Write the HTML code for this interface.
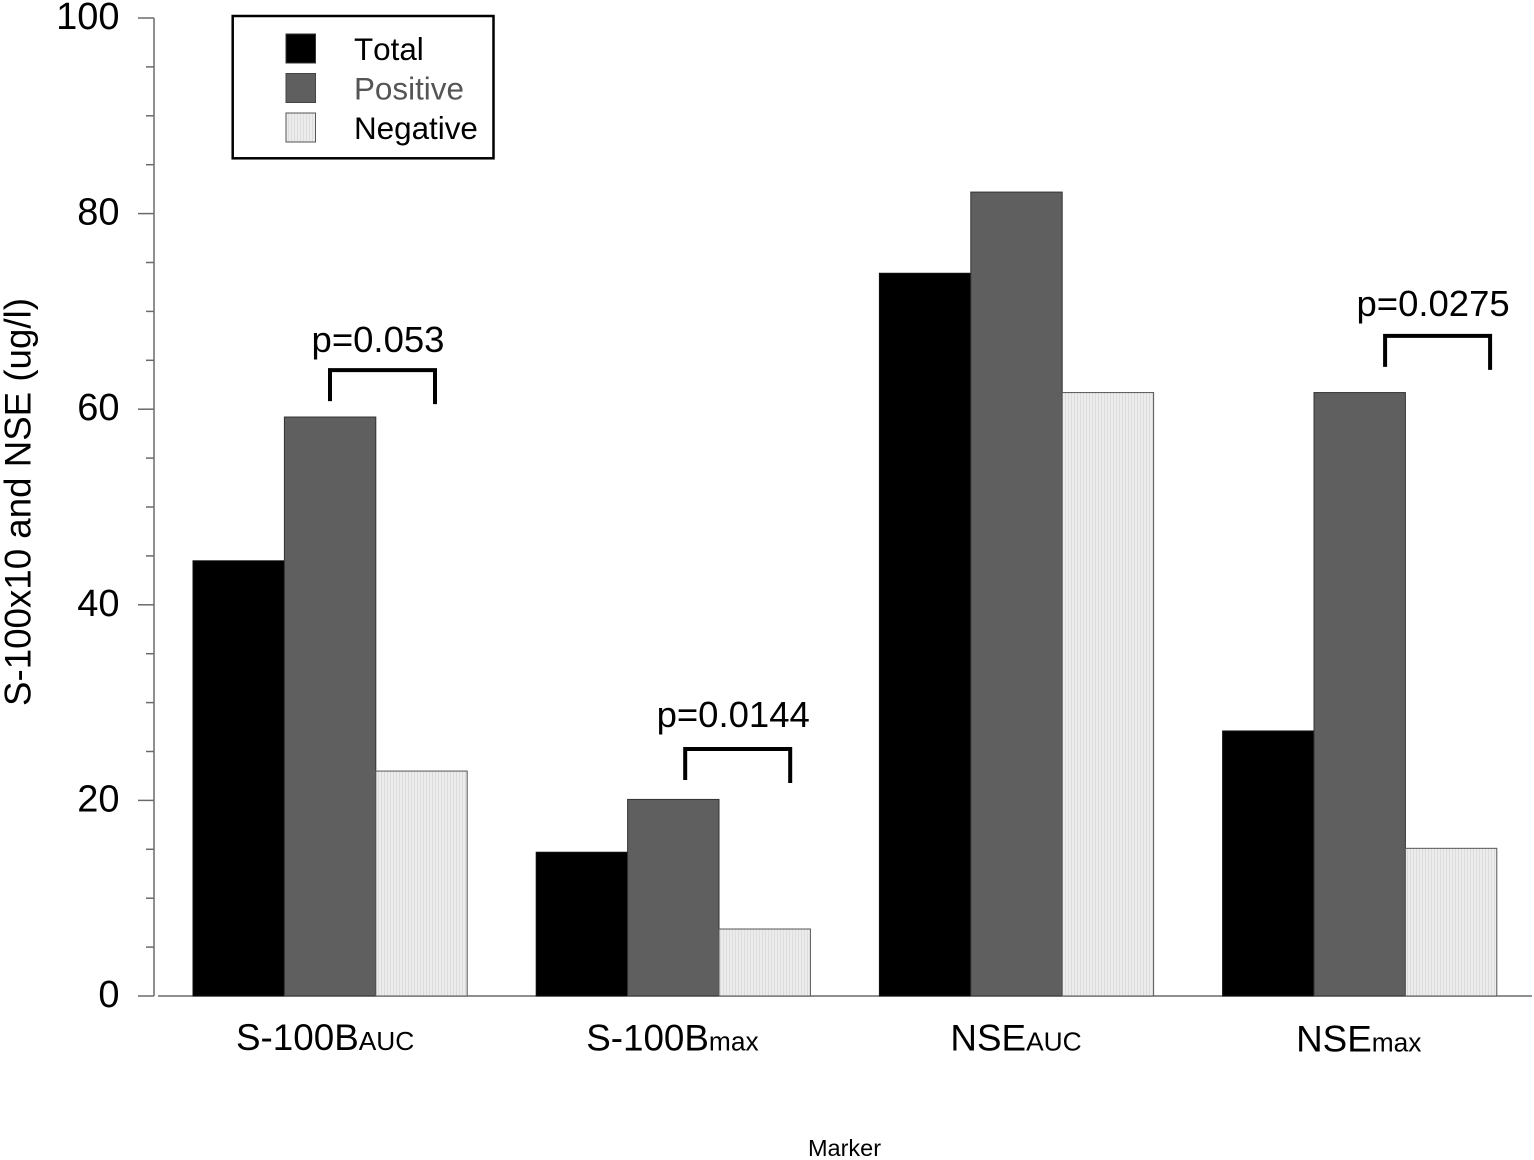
<!DOCTYPE html>
<html lang="en">
<head>
<meta charset="utf-8">
<title>S-100 and NSE by marker</title>
<style>
html,body{margin:0;padding:0;background:#fff;}
svg{display:block;font-family:"Liberation Sans",Arial,sans-serif;font-kerning:none;}
</style>
</head>
<body>
<svg id="chart" xmlns="http://www.w3.org/2000/svg" width="1534" height="1160" viewBox="0 0 1534 1160">
<defs>
<pattern id="hatch" patternUnits="userSpaceOnUse" width="3" height="3">
<rect width="3" height="3" fill="#ececec"></rect>
<rect width="1" height="3" fill="#dcdcdc"></rect>
</pattern>
</defs>
<g id="axes"></g>
<g id="bars"></g>
<g id="brackets"></g>
<text transform="translate(30.5,502) rotate(-90)" text-anchor="middle" font-size="36.7" fill="#000">S-100x10 and NSE (ug/l)</text>
<text x="844.5" y="1156" text-anchor="middle" font-size="23.5" fill="#000">Marker</text>
<g>
<rect x="232.7" y="16" width="260.8" height="142.3" fill="#fff" stroke="#000" stroke-width="2.5"></rect>
<rect x="286" y="34" width="29.5" height="29" fill="#000" stroke="#333" stroke-width="1"></rect>
<text x="354" y="60" font-size="31.4" fill="#000">Total</text>
<rect x="286" y="73.5" width="29.5" height="29" fill="#5f5f5f" stroke="#444" stroke-width="1"></rect>
<text x="354" y="99.5" font-size="31.4" fill="#555">Positive</text>
<rect x="286" y="113" width="29.5" height="29" fill="url(#hatch)" stroke="#555" stroke-width="1"></rect>
<text x="354" y="139" font-size="31.4" fill="#000">Negative</text>
</g>
</svg>
<script>
const categories = ["S-100B", "S-100B", "NSE", "NSE"];
const categorySubs = ["AUC", "max", "AUC", "max"];
const seriesNames = ["total", "positive", "negative"];
const totalValues = [44.5, 14.7, 73.9, 27.1];
const positiveValues = [59.2, 20.1, 82.2, 61.7];
const negativeValues = [23.0, 6.85, 61.7, 15.1];
const majorTickLabels = [0, 20, 40, 60, 80, 100];
const minorTickValues = [10, 30, 50, 70, 90, 5, 15, 25, 35, 45, 55, 65, 75, 85, 95];
const pLabels = ["p=0.053", "p=0.0144", "p=0.0275"];
const bracketLevels = [64.0, 25.25, 67.5];

const NS = "http://www.w3.org/2000/svg";
const seriesValues = [totalValues, positiveValues, negativeValues];
const fills = ["#000", "#5f5f5f", "url(#hatch)"];
const strokes = ["#111", "#333", "#555"];

function yScale(v) { return 996 - v * 9.78; }
function groupLeft(i) { return 193 + i * 343.2; }
function barLeft(g, s) { return groupLeft(g) + s * 91.4; }

function make(tag, attrs, parent) {
  const el = document.createElementNS(NS, tag);
  for (const k in attrs) el.setAttribute(k, attrs[k]);
  parent.appendChild(el);
  return el;
}

const axes = document.getElementById("axes");
const axisStyle = { stroke: "#6a6a6a", "stroke-width": 1.5, fill: "none" };

const yLine = make("line", Object.assign({ x1: 154, x2: 154, y1: yScale(100), y2: yScale(0) }, axisStyle), axes);



const xLine = make("line", Object.assign({ x1: 158, x2: 1532, y1: yScale(0), y2: yScale(0) }, axisStyle), axes);



majorTickLabels.forEach(function (v) {
  const tick = make("line", Object.assign({ x1: 138, x2: 154, y1: yScale(v), y2: yScale(v) }, axisStyle), axes);
  
  
  const label = make("text", { x: 119.5, y: yScale(v) + 11, "text-anchor": "end", "font-size": 38, fill: "#000" }, axes);
  
  
  label.textContent = String(v);
});

minorTickValues.forEach(function (v) {
  const tick = make("line", Object.assign({ x1: 146, x2: 154, y1: yScale(v), y2: yScale(v) }, axisStyle), axes);
  
  
});

const barsGroup = document.getElementById("bars");
categories.forEach(function (c, g) {
  seriesValues.forEach(function (vals, s) {
    const top = yScale(vals[g]);
    const bar = make("rect", {
      x: barLeft(g, s), y: top, width: 91.4, height: yScale(0) - top,
      fill: fills[s], stroke: strokes[s], "stroke-width": 1
    }, barsGroup);
    
    
  });
  const label = make("text", {
    x: barLeft(g, 0) + [43, 50, 71, 73.5][g], y: [1050, 1050.5, 1050.5, 1051.5][g], "font-size": 36.8, fill: "#000"
  }, barsGroup);
  
  
  label.textContent = c;
  const sub = make("tspan", { "font-size": 26.3 }, label);
  
  
  sub.textContent = categorySubs[g];
});

const bracketGroup = document.getElementById("brackets");
const bracketGroups = [0, 1, 3];
const bracketOffsets = [137, 149, 162.5];
const labelGaps = [18, 22, 20];
pLabels.forEach(function (p, i) {
  const left = groupLeft(bracketGroups[i]) + bracketOffsets[i];
  const right = left + 105;
  const top = yScale(bracketLevels[i]);
  const bracket = make("path", {
    d: "M" + left + " " + (top + 31) + "V" + top + "H" + right + "V" + (top + 34),
    fill: "none", stroke: "#000", "stroke-width": 4
  }, bracketGroup);
  
  
  const label = make("text", {
    x: (left + right) / 2 - 4.5, y: top - labelGaps[i], "text-anchor": "middle", "font-size": 36.5, fill: "#000"
  }, bracketGroup);
  
  
  label.textContent = p;
});
</script>
</body>
</html>
